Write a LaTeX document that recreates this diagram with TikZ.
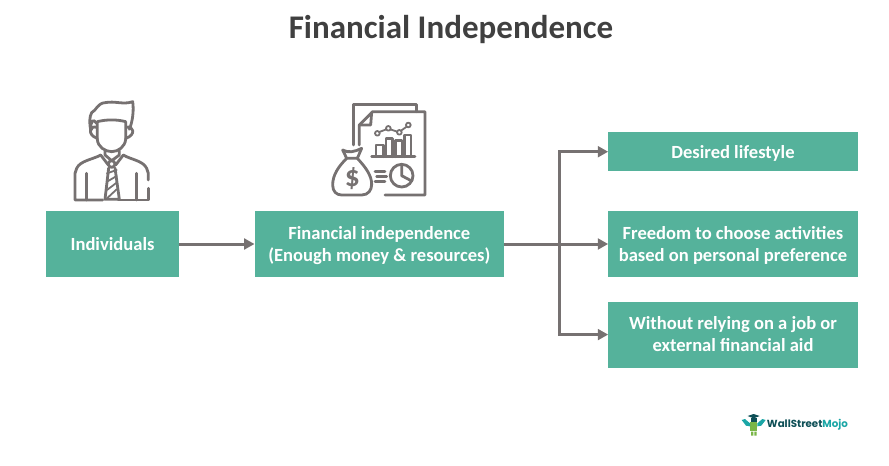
\documentclass[tikz,border=0pt]{standalone}
\usepackage{fontspec}
\setmainfont{Carlito}
\newfontfamily\logofont{Poppins}
\usetikzlibrary{arrows.meta, positioning}
\definecolor{boxgreen}{HTML}{55B29B}
\definecolor{linegray}{HTML}{767171}
\definecolor{titlegray}{HTML}{404040}
\definecolor{logodark}{HTML}{0E4F56}
\definecolor{logoteal}{HTML}{1BA6A6}
\definecolor{logogreen}{HTML}{7AB648}
\tikzset{
    box/.style={fill=boxgreen, text=white, align=center, inner sep=0pt, minimum height=1.65cm, minimum width=6.225cm, font=\fontsize{13.2}{15.6}\selectfont\bfseries},
    two lines/.style={execute at begin node=\rule[-0.25em]{0pt}{2.35em}},
    conn/.style={draw=linegray, line width=0.075cm, -{Triangle[length=0.26cm, width=0.27cm]}},
    icon/.style={draw=linegray, line width=0.07cm, line join=round, line cap=round},
    thin icon/.style={icon, line width=0.045cm},
}

\begin{document}
\begin{tikzpicture}[x=0.025cm, y=-0.025cm]
    \useasboundingbox (0,0) rectangle (889,466);

    \node[text=titlegray, font=\fontsize{23.5}{28}\selectfont\bfseries] (title) at (451,30) {Financial Independence};

    \node[box, minimum width=3.325cm] (ind) at (112.5,244) {Individuals};
    \node[box, two lines, right=1.9cm of ind, xshift=-0.02cm] (fin) {Financial independence\\(Enough money \& resources)};
    \node[box, two lines, right=2.6cm of fin] (frd) {Freedom to choose activities\\based on personal preference};
    \node[box, above=0.98cm of frd, minimum height=0.975cm, execute at begin node=\rule{0pt}{0.85em}] (des) {Desired lifestyle};
    \node[box, two lines, below=0.6cm of frd] (wo) {Without relying on a job or\\external financial aid};
    \coordinate (jn) at (559,244);

    \draw[conn] (ind) -- (fin);
    \draw[conn] (fin) -- (frd);
    \draw[conn] (jn) |- (des);
    \draw[conn] (jn) |- (wo);

    \begin{scope}[shift={(60,90)}, scale=1/3]
      \draw[icon] (110,100) .. controls (100,85) and (92,90) .. (92,120) .. controls (88,100) and (88,80) .. (95,68) .. controls (110,60) and (112,40) .. (135,38) .. controls (165,32) and (190,45) .. (218,35) .. controls (222,60) and (218,95) .. (208,118);
      \draw[icon] (112,95) .. controls (140,88) and (170,88) .. (197,95) -- (197,148) .. controls (195,170) and (175,185) .. (155,185) .. controls (135,185) and (113,170) .. (112,148) -- cycle;
      \draw[icon] (110,112) .. controls (90,105) and (80,135) .. (112,145);
      \draw[icon] (199,112) .. controls (220,105) and (230,135) .. (197,145);
      \draw[icon] (135,182) -- (135,195) -- (155,212) -- (178,195) -- (178,182);
      \draw[icon] (122,195) .. controls (100,208) and (60,212) .. (50,235) -- (45,250) -- (45,330) -- (128,330);
      \draw[icon] (190,195) .. controls (210,208) and (250,212) .. (260,235) -- (265,250) -- (265,270);
      \draw[icon] (265,295) -- (265,330) -- (175,330);
      \draw[icon] (80,250) -- (80,330);
      \draw[icon] (230,250) -- (230,330);
      \draw[icon] (122,195) -- (145,225);
      \draw[icon] (190,195) -- (167,225);
      \draw[icon] (155,222) circle (10);
      \draw[icon] (146,234) -- (135,328) -- (178,328) -- (165,234);
      \foreach \ya/\yb in {250/240, 275/258, 300/278, 325/298}
        \draw[thin icon] (141,\ya) -- (170,\yb);
    \end{scope}

    \begin{scope}[shift={(320,95)}, scale=1/3]
      \draw[icon] (100,150) -- (100,28) -- (290,28) -- (290,50);
      \draw[icon] (118,150) -- (118,90) -- (158,50) -- (315,50) -- (315,300) -- (195,300);
      \draw[icon] (155,52) -- (152,90) -- (118,90);
      \draw[icon] (155,185) -- (285,185);
      \draw[icon] (168,185) -- (168,150) -- (190,150) -- (190,185);
      \draw[icon] (198,185) -- (198,130) -- (218,130) -- (218,185);
      \draw[icon] (226,185) -- (226,137) -- (246,137) -- (246,185);
      \draw[icon] (254,185) -- (254,120) -- (273,120) -- (273,185);
      \draw[thin icon] (172,115) circle (7) (205,100) circle (7) (238,112) circle (7) (265,90) circle (7);
      \draw[thin icon] (178,111) -- (199,103) (211,103) -- (232,110) (243,107) -- (260,95);
      \draw[icon] (245,242) circle (34);
      \draw[icon] (245,208) -- (245,242) -- (275,258);
      \draw[icon] (165,230) -- (195,230) (170,245) -- (200,245) (165,260) -- (195,260);
      \draw[icon] (68,165) .. controls (85,175) and (105,170) .. (125,160) -- (112,190) -- (80,190) -- cycle;
      \draw[icon] (80,190) .. controls (55,215) and (38,240) .. (38,270) .. controls (38,290) and (50,300) .. (65,300) -- (125,300) .. controls (145,300) and (155,285) .. (155,268) .. controls (155,240) and (135,215) .. (112,190);
      \node[text=linegray, font=\fontsize{21}{21}\selectfont\bfseries] (dollar) at (97,252) {\$};
    \end{scope}

    \begin{scope}[shift={(730,405)}, scale=1/3]
      \fill[logogreen] (60,52) rectangle (82,78);
      \fill[logogreen] (63,80) rectangle (70,92) (73,80) rectangle (80,92);
      \fill[logoteal] (35,45) -- (45,42) -- (60,55) -- (60,64) -- (48,62) -- cycle;
      \fill[logoteal] (107,45) -- (97,42) -- (82,55) -- (82,64) -- (94,62) -- cycle;
      \fill[logodark] (53,33) -- (71,27) -- (89,33) -- (71,40) -- cycle;
      \fill[logodark] (62,40) rectangle (80,50);
      \node[anchor=west, inner sep=0pt, font=\logofont\fontsize{7.3}{9}\selectfont\bfseries, text=logodark] (logo) at (110,60) {WallStreet\textcolor{logoteal}{Mojo}};
    \end{scope}
\end{tikzpicture}
\end{document}
